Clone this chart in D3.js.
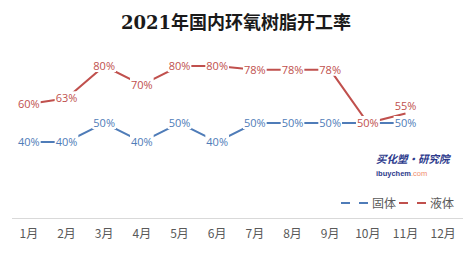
<!DOCTYPE html>
<html><head><meta charset="utf-8">
<script src="https://cdn.jsdelivr.net/npm/d3@7"></script>
<style>body{margin:0;background:#fff}svg{display:block}</style>
</head><body>
<script>
const months = ["1月","2月","3月","4月","5月","6月","7月","8月","9月","10月","11月","12月"];
const solid = [40,40,50,40,50,40,50,50,50,50,50];
const liquid = [60,63,80,70,80,80,78,78,78,50,55];
const seriesNames = ["固体","液体"];
const colors = ["#4f7cb8","#c0504d"];
const title = "2021年国内环氧树脂开工率";

const W=473,H=264;
const svg=d3.select("body").append("svg").attr("width",W).attr("height",H);
const x=d3.scaleBand().domain(months).range([10,462]);
const y=d3.scaleLinear().domain([0,100]).range([218,28]);
const cx=m=>x(m)+x.bandwidth()/2;

svg.append("text").attr("x",236).attr("y",29).attr("text-anchor","middle")
 .attr("font-family","'DejaVu Serif','Noto Sans CJK SC',serif").attr("font-weight","bold")
 .attr("font-size",18).attr("fill","#1a1a1a").text(title);

// axis
const ax=svg.append("g").attr("transform","translate(0,218)").call(d3.axisBottom(x).tickSize(0).tickPadding(11));
ax.select(".domain").attr("stroke","#d9d9d9").attr("stroke-width",1).attr("d","M12,0.5H463");
ax.selectAll("text").attr("font-family","'Noto Sans CJK SC',sans-serif").attr("font-size",12).attr("fill","#595959");

const data=[solid,liquid];
const line=d3.line().x((d,i)=>cx(months[i])).y(d=>y(d));
data.forEach((s,k)=>{
  svg.append("path").datum(s).attr("d",line).attr("fill","none").attr("stroke",colors[k]).attr("stroke-width",2);
});
// labels
data.forEach((s,k)=>{
  const g=svg.append("g");
  s.forEach((v,i)=>{
    let yy=y(v);
    if(k===1 && i===10) yy-=8;
    const t=g.append("text").attr("x",cx(months[i])).attr("y",yy+4).attr("text-anchor","middle")
      .attr("font-family","'Open Sans','Liberation Sans',sans-serif").attr("font-size",11)
      .attr("fill",colors[k]).text(v+"%");
    const b=t.node().getBBox();
    g.insert("rect","text:last-child").attr("x",b.x-1).attr("y",b.y+1).attr("width",b.width+2).attr("height",b.height-2).attr("fill","#fff");
  });
});

// watermark
svg.append("text").attr("x",376).attr("y",163).attr("font-family","'Noto Sans CJK SC',sans-serif")
 .attr("font-weight","bold").attr("font-style","italic").attr("font-size",10.5).attr("fill","#2c3a8c").text("买化塑·研究院");
const wm=svg.append("text").attr("x",376).attr("y",176).attr("font-family","'Liberation Sans',sans-serif").attr("font-size",7.5).attr("font-weight","bold");
wm.append("tspan").attr("fill","#2c3a8c").text("ibuychem");
wm.append("tspan").attr("fill","#f08c6c").attr("font-weight","normal").text(".com");

// legend
const lx=[341,399];
seriesNames.forEach((n,k)=>{
  const g=svg.append("g");
  g.append("line").attr("x1",lx[k]).attr("x2",lx[k]+27).attr("y1",203).attr("y2",203)
   .attr("stroke",colors[k]).attr("stroke-width",2).attr("stroke-dasharray","9,9");
  g.append("text").attr("x",lx[k]+31).attr("y",208).attr("font-family","'Noto Sans CJK SC',sans-serif")
   .attr("font-size",12).attr("fill","#595959").text(n);
});
</script>
</body></html>
